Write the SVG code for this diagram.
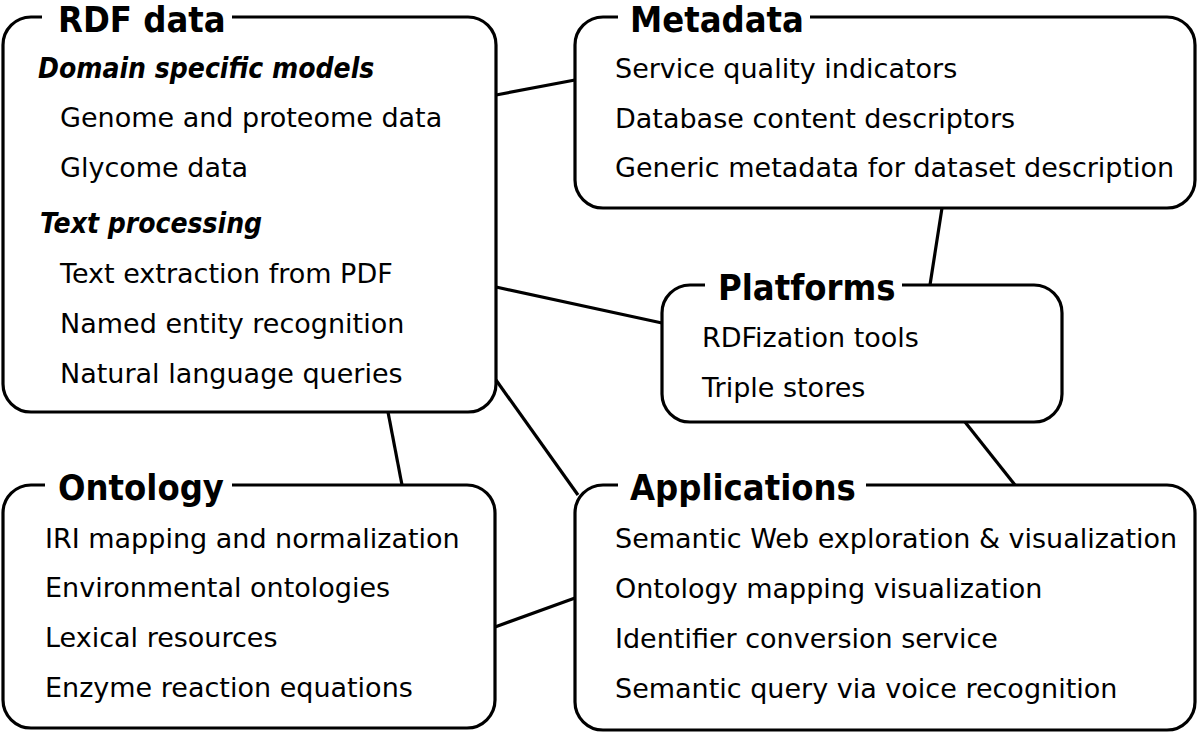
<svg xmlns="http://www.w3.org/2000/svg" width="1200" height="741" viewBox="0 0 1200 741">
<style>
.box{fill:none;stroke:#000;stroke-width:3.2}
.conn line{stroke:#000;stroke-width:3.2}
.t{fill:#000}
.title{font-family:"DejaVu Sans Condensed","DejaVu Sans",sans-serif;font-stretch:condensed;font-size:36px;font-weight:bold}
.item{font-family:"DejaVu Sans",sans-serif;font-size:27px}
.sub{font-family:"DejaVu Sans Condensed","DejaVu Sans",sans-serif;font-stretch:condensed;font-size:28px;font-weight:bold;font-style:italic}
</style>
<rect width="1200" height="741" fill="#fff"/>
<g class="conn" id="connectors">
<line x1="496" y1="95" x2="575" y2="80"/>
<line x1="942" y1="208" x2="930" y2="285"/>
<line x1="496" y1="287" x2="662" y2="323"/>
<line x1="388" y1="412" x2="402" y2="485"/>
<line x1="496" y1="380" x2="578" y2="495"/>
<line x1="965" y1="422" x2="1015" y2="485"/>
<line x1="495" y1="627" x2="575" y2="598"/>
</g>
<g id="rdf">
<path class="box" d="M232,17 H468 A28,28 0 0 1 496,45 V384 A28,28 0 0 1 468,412 H31 A28,28 0 0 1 3,384 V45 A28,28 0 0 1 31,17 H42"/>
<text class="t title" x="58" y="32">RDF data</text>
<text class="t sub" x="38" y="78">Domain specific models</text>
<text class="t item" x="60" y="127">Genome and proteome data</text>
<text class="t item" x="60" y="177">Glycome data</text>
<text class="t sub" x="40" y="233">Text processing</text>
<text class="t item" x="60" y="283">Text extraction from PDF</text>
<text class="t item" x="60" y="333">Named entity recognition</text>
<text class="t item" x="60" y="383">Natural language queries</text>
</g>
<g id="metadata">
<path class="box" d="M810,17 H1167 A28,28 0 0 1 1195,45 V180 A28,28 0 0 1 1167,208 H603 A28,28 0 0 1 575,180 V45 A28,28 0 0 1 603,17 H618"/>
<text class="t title" x="630" y="32">Metadata</text>
<text class="t item" x="615" y="78">Service quality indicators</text>
<text class="t item" x="615" y="128">Database content descriptors</text>
<text class="t item" x="615" y="177">Generic metadata for dataset description</text>
</g>
<g id="platforms">
<path class="box" d="M902,285 H1034 A28,28 0 0 1 1062,313 V394 A28,28 0 0 1 1034,422 H690 A28,28 0 0 1 662,394 V313 A28,28 0 0 1 690,285 H705"/>
<text class="t title" x="718" y="300">Platforms</text>
<text class="t item" x="702" y="347">RDFization tools</text>
<text class="t item" x="702" y="397">Triple stores</text>
</g>
<g id="ontology">
<path class="box" d="M232,485 H467 A28,28 0 0 1 495,513 V700 A28,28 0 0 1 467,728 H31 A28,28 0 0 1 3,700 V513 A28,28 0 0 1 31,485 H45"/>
<text class="t title" x="58" y="500">Ontology</text>
<text class="t item" x="45" y="548">IRI mapping and normalization</text>
<text class="t item" x="45" y="597">Environmental ontologies</text>
<text class="t item" x="45" y="647">Lexical resources</text>
<text class="t item" x="45" y="697">Enzyme reaction equations</text>
</g>
<g id="applications">
<path class="box" d="M866,485 H1167 A28,28 0 0 1 1195,513 V702 A28,28 0 0 1 1167,730 H603 A28,28 0 0 1 575,702 V513 A28,28 0 0 1 603,485 H618"/>
<text class="t title" x="630" y="500">Applications</text>
<text class="t item" x="615" y="548">Semantic Web exploration &amp; visualization</text>
<text class="t item" x="615" y="598">Ontology mapping visualization</text>
<text class="t item" x="615" y="648">Identifier conversion service</text>
<text class="t item" x="615" y="698">Semantic query via voice recognition</text>
</g>
</svg>
